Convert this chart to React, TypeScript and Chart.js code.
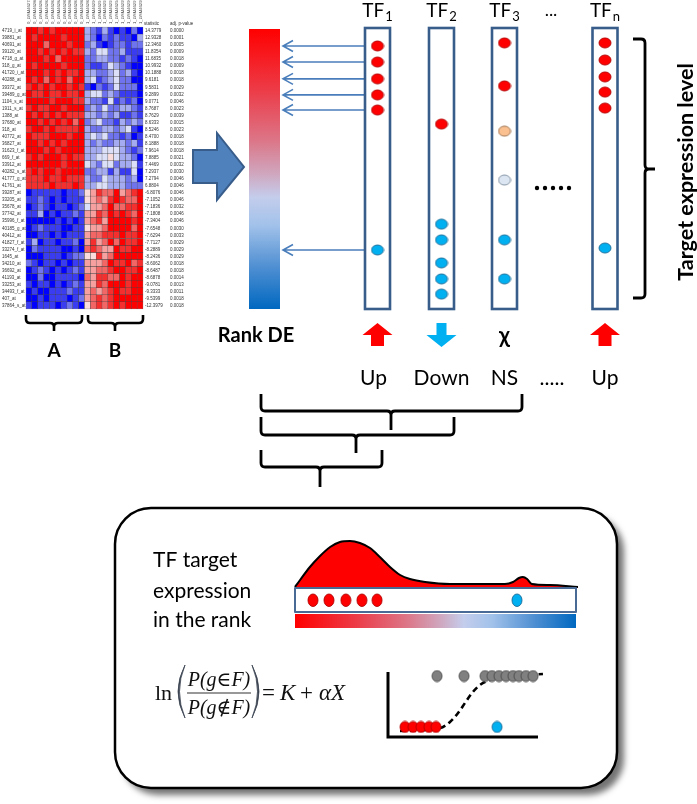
import React, { useEffect, useRef } from 'react';
import { Chart, registerables } from 'chart.js';

Chart.register(...registerables);

const W = 697;
const H = 804;

// ---------------- Heatmap data ----------------
const SAMPLE_LABELS = [
  '0_GSM46279', '0_GSM46280', '0_GSM46281', '0_GSM46282', '0_GSM46283',
  '0_GSM46284', '0_GSM46285', '0_GSM46286', '0_GSM46287', '0_GSM46288',
  '1_GSM46289', '1_GSM46290', '1_GSM46291', '1_GSM46292', '1_GSM46293',
  '1_GSM46294', '1_GSM46295', '1_GSM46296', '1_GSM46297', '1_GSM46298',
];
const GENE_LABELS = [
  '4719_i_at', '39881_at', '40691_at', '39120_at', '4718_g_at', '318_g_at', '41720_i_at', '40288_at',
  '39372_at', '39489_g_at', '1104_s_at', '1911_s_at', '1388_at', '37680_at', '318_at', '40772_at',
  '36827_at', '31623_f_at', '669_f_at', '33912_at', '40282_s_at', '41777_g_at', '41761_at',
  '39287_at', '33205_at', '35678_at', '37742_at', '35996_f_at', '40185_g_at', '40412_at',
  '41827_f_at', '33274_f_at', '1645_at', '34210_at', '36692_at', '41193_at', '33253_at',
  '34493_f_at', '407_at', '37864_s_at',
];
const STATISTIC = [
  '14.3779', '12.9328', '12.3460', '11.8354', '11.6835', '10.9932', '10.1888', '9.6181',
  '9.5831', '9.2899', '9.0771', '8.7687', '8.7629', '8.6333', '8.5246', '8.4700',
  '8.1888', '7.9614', '7.8885', '7.4469', '7.2937', '7.2794', '6.8804',
  '-6.8076', '-7.1052', '-7.1836', '-7.1808', '-7.3404', '-7.6548', '-7.6294',
  '-7.7127', '-8.2889', '-8.2436', '-8.6062', '-8.6487', '-8.6878', '-9.0781',
  '-9.3333', '-9.5399', '-12.3979',
];
const ADJ_P = [
  '0.0000', '0.0001', '0.0005', '0.0009', '0.0018', '0.0009', '0.0018', '0.0018',
  '0.0029', '0.0032', '0.0046', '0.0023', '0.0039', '0.0015', '0.0023', '0.0018',
  '0.0018', '0.0018', '0.0021', '0.0032', '0.0030', '0.0046', '0.0046',
  '0.0046', '0.0046', '0.0032', '0.0046', '0.0046', '0.0030', '0.0033',
  '0.0029', '0.0029', '0.0029', '0.0018', '0.0018', '0.0014', '0.0013',
  '0.0011', '0.0018', '0.0018',
];
// intensity per cell: 0 = deep blue ... 9 = deep red (group A | group B)
const HEAT_ROWS = [
  '9989899999 3213101020',
  '9899998999 3202121103',
  '9997999899 2310122122',
  '9989898988 3244223111',
  '9998979999 2233221210',
  '9899998999 2112432100',
  '9998989889 3322342310',
  '9897989799 3412342200',
  '8989899898 1021242220',
  '9889889889 3442321110',
  '9999899988 3221412120',
  '8988998999 2324223321',
  '9898989888 3323231121',
  '9989898979 2342213232',
  '8998988889 3223323410',
  '9888999899 3434221201',
  '9989898999 3232233231',
  '9998989999 3334443212',
  '8989998988 3344543320',
  '9999998999 4324423341',
  '8989989999 2233131140',
  '8889889888 3224333230',
  '8888988898 3344333222',
  '0111110112 5687796789',
  '1121010111 5676898779',
  '0121011012 4667977889',
  '1130101121 6687989879',
  '0000010101 6786999989',
  '0121110011 5667999979',
  '0011010111 6778889889',
  '1301101120 6867979889',
  '0211110010 7876698899',
  '0001110122 5586799999',
  '2101101011 6667988978',
  '0121010121 6677899889',
  '0020011110 7688779899',
  '1011010121 6687999899',
  '0100111211 6767898899',
  '0010111012 6787899999',
  '1011101210 5787898999',
];
const HEAT_COLORS = [
  '#0000ff', '#3a3cf2', '#6f74ee', '#a5abf0', '#dcdff8',
  '#fbdcdc', '#f6a0a0', '#f36666', '#f52e2e', '#ff0000',
];

// ---------------- TF panel data ----------------
const TF_NAMES = ['1', '2', '3', 'n'];
const TF_DIRECTION = ['Up', 'Down', 'NS', 'Up'];
// position of each target gene in the DE rank (0 = top/most up, 1 = bottom/most down)
const TF_TARGET_RANKS = [
  [0.064, 0.121, 0.181, 0.238, 0.292, 0.79],
  [0.342, 0.698, 0.754, 0.836, 0.893, 0.947],
  [0.053, 0.206, 0.367, 0.541, 0.754, 0.893],
  [0.053, 0.114, 0.174, 0.228, 0.285, 0.783],
];
const TF_TARGET_CLASS = [
  ['up', 'up', 'up', 'up', 'up', 'down'],
  ['up', 'down', 'down', 'down', 'down', 'down'],
  ['up', 'up', 'weakUp', 'weakDown', 'down', 'down'],
  ['up', 'up', 'up', 'up', 'up', 'down'],
];

// ---------------- Bottom panel data ----------------
const DENSITY_RANK = [0, 0.018, 0.053, 0.089, 0.125, 0.16, 0.196, 0.231, 0.267, 0.302, 0.338, 0.374, 0.409, 0.463, 0.552, 0.658, 0.747, 0.776, 0.797, 0.811, 0.826, 0.843, 0.907, 1.007];
const DENSITY_HEIGHT = [1, 8, 21, 32, 41, 46, 47, 45, 40, 31, 21, 13, 9, 6, 4, 4, 4, 6, 10, 11, 9, 4, 3, 1];
const LOGIT_CURVE_X = [0.08, 0.347, 0.413, 0.467, 0.513, 0.56, 0.613, 0.68, 0.78, 0.913, 1.033];
const LOGIT_CURVE_P = [0.092, 0.138, 0.231, 0.369, 0.523, 0.677, 0.8, 0.877, 0.923, 0.954, 0.969];
const LOGIT_TARGET_X = [0.113, 0.167, 0.22, 0.273, 0.32];
const LOGIT_TARGET_P = [0.154, 0.154, 0.154, 0.154, 0.154];
const LOGIT_OTHER_X = [0.327, 0.507, 0.647, 0.693, 0.74, 0.787, 0.833, 0.873, 0.92, 0.967];
const LOGIT_OTHER_P = [0.938, 0.938, 0.938, 0.938, 0.938, 0.938, 0.938, 0.938, 0.938, 0.938];
const LOGIT_DOWN_X = [0.727];
const LOGIT_DOWN_P = [0.154];

// ---------------- Layout (positions only) ----------------
const HM = { x0: 26, y0: 27, cw: 5.85, ch: 7.05 };
const RANKBAR = { l: 249, r: 280, t: 29, b: 309 };
const TF_X = [377.5, 441.5, 504.5, 605];
const TF_BOX = { w: 25, t: 28, b: 309 };
const EX = { l: 295, r: 576, t: 588, b: 612, gt: 614, gb: 628, dotY: 600 };
const LOGIT = { x0: 388, y0: 737, w: 150, h: 65 };
const BOX = { l: 115, t: 508, r: 617, b: 788, rad: 36 };

const SANS = 'Lato, "Open Sans", "Noto Sans", sans-serif';
const SERIF = '"Liberation Serif", "DejaVu Serif", serif';
const SMALL = '"Liberation Sans", Arial, sans-serif';

const DOT_STYLE: Record<string, [string, string]> = {
  up: ['#ff0000', '#b00000'],
  down: ['#00b0f0', '#1d6a96'],
  weakUp: ['#fac090', '#9a6d4a'],
  weakDown: ['#dce6f2', '#7a8a9c'],
  other: ['#808080', '#4a4a4a'],
};

function ellipse(w: number, h: number, fill: string, stroke: string) {
  const c = document.createElement('canvas');
  c.width = w + 2;
  c.height = h + 2;
  const g = c.getContext('2d')!;
  g.beginPath();
  g.ellipse((w + 2) / 2, (h + 2) / 2, w / 2, h / 2, 0, 0, Math.PI * 2);
  g.fillStyle = fill;
  g.fill();
  g.lineWidth = 0.9;
  g.strokeStyle = stroke;
  g.stroke();
  return c;
}

function gradStops(g: CanvasGradient) {
  g.addColorStop(0, '#ff0000');
  g.addColorStop(0.22, '#ec3c48');
  g.addColorStop(0.4, '#dc7688');
  g.addColorStop(0.52, '#cfa8c0');
  g.addColorStop(0.6, '#c4cdec');
  g.addColorStop(0.7, '#a2c2ea');
  g.addColorStop(0.85, '#4f8fd2');
  g.addColorStop(1, '#0068c0');
}

export default function App() {
  const ref = useRef<HTMLCanvasElement>(null);

  useEffect(() => {
    const canvas = ref.current!;
    const tfBoxH = TF_BOX.b - TF_BOX.t;
    const exW = EX.r - EX.l;

    // heatmap cells
    const cells: any[] = [];
    const cellColors: string[] = [];
    HEAT_ROWS.forEach((row, r) => {
      row.replace(' ', '').split('').forEach((ch, c) => {
        cells.push({ x: HM.x0 + (c + 0.5) * HM.cw, y: [HM.y0 + r * HM.ch, HM.y0 + (r + 1) * HM.ch] });
        cellColors.push(HEAT_COLORS[Number(ch)]);
      });
    });

    // TF dots grouped by class
    const tfDots: Record<string, any[]> = { up: [], down: [], weakUp: [], weakDown: [] };
    TF_TARGET_RANKS.forEach((ranks, i) => {
      ranks.forEach((rk, j) => {
        tfDots[TF_TARGET_CLASS[i][j]].push({ x: TF_X[i], y: TF_BOX.t + rk * tfBoxH });
      });
    });

    // example (TF1) in rank
    const exUp: any[] = [];
    const exDown: any[] = [];
    TF_TARGET_RANKS[0].forEach((rk, j) => {
      const p = { x: EX.l + rk * exW, y: EX.dotY };
      (TF_TARGET_CLASS[0][j] === 'up' ? exUp : exDown).push(p);
    });

    const density = DENSITY_RANK.map((rk, i) => ({ x: EX.l + rk * exW, y: EX.t - DENSITY_HEIGHT[i] }));
    const lx = (v: number) => LOGIT.x0 + v * LOGIT.w;
    const ly = (v: number) => LOGIT.y0 - v * LOGIT.h;
    const curve = LOGIT_CURVE_X.map((v, i) => ({ x: lx(v), y: ly(LOGIT_CURVE_P[i]) }));
    const lTarget = LOGIT_TARGET_X.map((v, i) => ({ x: lx(v), y: ly(LOGIT_TARGET_P[i]) }));
    const lOther = LOGIT_OTHER_X.map((v, i) => ({ x: lx(v), y: ly(LOGIT_OTHER_P[i]) }));
    const lDown = LOGIT_DOWN_X.map((v, i) => ({ x: lx(v), y: ly(LOGIT_DOWN_P[i]) }));

    const dot = (cls: string, w: number, h: number) => ellipse(w, h, DOT_STYLE[cls][0], DOT_STYLE[cls][1]);
    const pointDs = (data: any[], style: HTMLCanvasElement, order = 1) => ({
      type: 'scatter' as const,
      data,
      pointStyle: style,
      pointRadius: 6,
      clip: false,
      order,
    });

    const decor = {
      id: 'decor',
      beforeDatasetsDraw(chart: any) {
        const ctx: CanvasRenderingContext2D = chart.ctx;
        const X = (v: number) => chart.scales.x.getPixelForValue(v);
        const Y = (v: number) => chart.scales.y.getPixelForValue(v);
        ctx.save();
        ctx.fillStyle = '#fff';
        ctx.fillRect(0, 0, W, H);

        // bottom rounded box with shadow
        const rr = () => {
          ctx.beginPath();
          ctx.moveTo(X(BOX.l + BOX.rad), Y(BOX.t));
          ctx.arcTo(X(BOX.r), Y(BOX.t), X(BOX.r), Y(BOX.b), BOX.rad);
          ctx.arcTo(X(BOX.r), Y(BOX.b), X(BOX.l), Y(BOX.b), BOX.rad);
          ctx.arcTo(X(BOX.l), Y(BOX.b), X(BOX.l), Y(BOX.t), BOX.rad);
          ctx.arcTo(X(BOX.l), Y(BOX.t), X(BOX.r), Y(BOX.t), BOX.rad);
          ctx.closePath();
        };
        ctx.save();
        rr();
        ctx.shadowColor = 'rgba(0,0,0,0.55)';
        ctx.shadowOffsetX = 7;
        ctx.shadowOffsetY = 7;
        ctx.shadowBlur = 6;
        ctx.fillStyle = '#fff';
        ctx.fill();
        ctx.restore();
        rr();
        ctx.lineWidth = 2.5;
        ctx.strokeStyle = '#000';
        ctx.stroke();

        // rank DE gradient bar
        const g1 = ctx.createLinearGradient(0, Y(RANKBAR.t), 0, Y(RANKBAR.b));
        gradStops(g1);
        ctx.fillStyle = g1;
        ctx.fillRect(X(RANKBAR.l), Y(RANKBAR.t), X(RANKBAR.r) - X(RANKBAR.l), Y(RANKBAR.b) - Y(RANKBAR.t));

        // big block arrow
        ctx.beginPath();
        const arrow = [[193, 150], [217, 150], [217, 133], [244, 167], [217, 200], [217, 183], [193, 183]];
        arrow.forEach(([ax, ay], i) => (i ? ctx.lineTo(X(ax), Y(ay)) : ctx.moveTo(X(ax), Y(ay))));
        ctx.closePath();
        ctx.fillStyle = '#4f81bd';
        ctx.fill();
        ctx.lineWidth = 2;
        ctx.strokeStyle = '#385d8a';
        ctx.stroke();

        // arrows from TF1 targets to the rank
        ctx.strokeStyle = '#4a7ebb';
        ctx.lineWidth = 1.6;
        TF_TARGET_RANKS[0].forEach((rk) => {
          const y = Y(TF_BOX.t + rk * tfBoxH);
          ctx.beginPath();
          ctx.moveTo(X(283), y);
          ctx.lineTo(X(TF_X[0] - 4), y);
          ctx.moveTo(X(293), y - 5.5);
          ctx.lineTo(X(283), y);
          ctx.lineTo(X(293), y + 5.5);
          ctx.stroke();
        });

        // TF boxes
        TF_X.forEach((cx) => {
          ctx.fillStyle = '#fff';
          const x0 = X(cx - TF_BOX.w / 2);
          ctx.fillRect(x0, Y(TF_BOX.t), TF_BOX.w, tfBoxH);
          ctx.lineWidth = 2.6;
          ctx.strokeStyle = '#385d8a';
          ctx.strokeRect(x0, Y(TF_BOX.t), TF_BOX.w, tfBoxH);
        });

        // example rank box & gradient
        ctx.fillStyle = '#fff';
        ctx.fillRect(X(EX.l), Y(EX.t), exW, EX.b - EX.t);
        const g2 = ctx.createLinearGradient(X(EX.l), 0, X(EX.r), 0);
        gradStops(g2);
        ctx.fillStyle = g2;
        ctx.fillRect(X(EX.l), Y(EX.gt), exW, EX.gb - EX.gt);

        // logistic axes
        ctx.strokeStyle = '#000';
        ctx.lineWidth = 3;
        ctx.beginPath();
        ctx.moveTo(X(LOGIT.x0), Y(LOGIT.y0 - LOGIT.h));
        ctx.lineTo(X(LOGIT.x0), Y(LOGIT.y0));
        ctx.lineTo(X(LOGIT.x0 + LOGIT.w), Y(LOGIT.y0));
        ctx.stroke();
        ctx.restore();
      },
      afterDatasetsDraw(chart: any) {
        const ctx: CanvasRenderingContext2D = chart.ctx;
        const X = (v: number) => chart.scales.x.getPixelForValue(v);
        const Y = (v: number) => chart.scales.y.getPixelForValue(v);
        const text = (s: string, x: number, y: number, font: string, align: CanvasTextAlign = 'left', color = '#000') => {
          ctx.font = font;
          ctx.fillStyle = color;
          ctx.textAlign = align;
          ctx.textBaseline = 'alphabetic';
          ctx.fillText(s, X(x), Y(y));
        };
        ctx.save();

        // heatmap labels
        GENE_LABELS.forEach((g, r) => {
          const y = HM.y0 + (r + 0.5) * HM.ch + 1.6;
          text(g, 2, y, `4.5px ${SMALL}`, 'left', '#333');
          text(STATISTIC[r], 145, y, `4.5px ${SMALL}`, 'left', '#333');
          text(ADJ_P[r], 170, y, `4.5px ${SMALL}`, 'left', '#333');
        });
        text('statistic', 144, 25, `4.5px ${SMALL}`, 'left', '#333');
        text('adj. p-value', 170, 25, `4.5px ${SMALL}`, 'left', '#333');
        SAMPLE_LABELS.forEach((s, c) => {
          ctx.save();
          ctx.translate(X(HM.x0 + (c + 0.5) * HM.cw + 1.5), Y(24));
          ctx.rotate(-Math.PI / 2);
          ctx.font = `4.2px ${SMALL}`;
          ctx.fillStyle = '#444';
          ctx.textAlign = 'left';
          ctx.fillText(s, 0, 0);
          ctx.restore();
        });

        // brace helper (horizontal, opening up)
        const brace = (xl: number, xr: number, xm: number, top: number, bot: number, tip: number, lw = 2.6) => {
          const r = 4;
          ctx.beginPath();
          ctx.moveTo(X(xl), Y(top));
          ctx.lineTo(X(xl), Y(bot - r));
          ctx.quadraticCurveTo(X(xl), Y(bot), X(xl + r), Y(bot));
          ctx.lineTo(X(xm - r), Y(bot));
          ctx.quadraticCurveTo(X(xm), Y(bot), X(xm), Y(bot + r));
          ctx.lineTo(X(xm), Y(tip));
          ctx.moveTo(X(xm), Y(bot + r));
          ctx.quadraticCurveTo(X(xm), Y(bot), X(xm + r), Y(bot));
          ctx.lineTo(X(xr - r), Y(bot));
          ctx.quadraticCurveTo(X(xr), Y(bot), X(xr), Y(bot - r));
          ctx.lineTo(X(xr), Y(top));
          ctx.lineWidth = lw;
          ctx.strokeStyle = '#000';
          ctx.lineJoin = 'round';
          ctx.stroke();
        };
        brace(26, 82, 54, 315, 323, 331);
        brace(88, 143, 115, 315, 323, 331);
        text('A', 54, 357, `bold 19px ${SANS}`, 'center');
        text('B', 115, 357, `bold 19px ${SANS}`, 'center');

        // nested braces under direction labels
        brace(261, 522, 391, 394, 411, 430, 2.8);
        brace(261, 454, 356, 417, 435, 453, 2.8);
        brace(261, 382, 320, 450, 467, 487, 2.8);

        // vertical brace for target expression level
        {
          const xi = 633, xv = 645, xt = 655, t = 39, b = 298, m = 169, r = 4;
          ctx.beginPath();
          ctx.moveTo(X(xi), Y(t));
          ctx.lineTo(X(xv - r), Y(t));
          ctx.quadraticCurveTo(X(xv), Y(t), X(xv), Y(t + r));
          ctx.lineTo(X(xv), Y(m - r));
          ctx.quadraticCurveTo(X(xv), Y(m), X(xv + r), Y(m));
          ctx.lineTo(X(xt), Y(m));
          ctx.moveTo(X(xv + r), Y(m));
          ctx.quadraticCurveTo(X(xv), Y(m), X(xv), Y(m + r));
          ctx.lineTo(X(xv), Y(b - r));
          ctx.quadraticCurveTo(X(xv), Y(b), X(xv - r), Y(b));
          ctx.lineTo(X(xi), Y(b));
          ctx.lineWidth = 2.8;
          ctx.strokeStyle = '#000';
          ctx.stroke();
          ctx.save();
          ctx.translate(X(693), Y(172));
          ctx.rotate(-Math.PI / 2);
          ctx.font = `bold 21.5px ${SANS}`;
          ctx.fillStyle = '#000';
          ctx.textAlign = 'center';
          ctx.fillText('Target expression level', 0, 0);
          ctx.restore();
        }

        // TF labels
        TF_NAMES.forEach((n, i) => {
          ctx.font = `19px ${SANS}`;
          const w1 = ctx.measureText('TF').width;
          ctx.font = `13px ${SANS}`;
          const w2 = ctx.measureText(n).width;
          const x0 = TF_X[i] - (w1 + w2 + 1) / 2;
          text('TF', x0, 17, `19px ${SANS}`);
          text(n, x0 + w1 + 1, 21, `13px ${SANS}`);
        });
        text('...', 551, 16, `18px ${SANS}`, 'center');
        // dotted continuation
        ctx.fillStyle = '#000';
        [537, 545, 553, 561, 569].forEach((dx) => {
          ctx.beginPath();
          ctx.arc(X(dx), Y(188), 2.2, 0, Math.PI * 2);
          ctx.fill();
        });

        text('Rank DE', 256, 342, `bold 20px ${SANS}`, 'center');

        // direction glyphs + labels
        TF_DIRECTION.forEach((d, i) => {
          const cx = TF_X[i];
          ctx.beginPath();
          if (d === 'Up') {
            const pts = [[0, 323], [15, 335], [6.5, 335], [6.5, 346], [-6.5, 346], [-6.5, 335], [-15, 335]];
            pts.forEach(([dx, y], k) => (k ? ctx.lineTo(X(cx + dx), Y(y)) : ctx.moveTo(X(cx + dx), Y(y))));
            ctx.closePath();
            ctx.fillStyle = '#ff0000';
            ctx.fill();
          } else if (d === 'Down') {
            const pts = [[-5, 323], [5, 323], [5, 335], [15, 335], [0, 347], [-15, 335], [-5, 335]];
            pts.forEach(([dx, y], k) => (k ? ctx.lineTo(X(cx + dx), Y(y)) : ctx.moveTo(X(cx + dx), Y(y))));
            ctx.closePath();
            ctx.fillStyle = '#00b0f0';
            ctx.fill();
          } else {
            text('\u03c7', cx, 343, `bold 22px ${SANS}`, 'center');
          }
          text(d, cx - (i === 0 ? 4 : 0), 385, `21px ${SANS}`, 'center');
        });
        text('.....', 552, 385, `21px ${SANS}`, 'center');

        // example rank box border (on top of density fill)
        ctx.lineWidth = 2;
        ctx.strokeStyle = '#4a6a96';
        ctx.strokeRect(X(EX.l), Y(EX.t), exW, EX.b - EX.t);

        // bottom texts
        text('TF target', 153, 567, `21px ${SANS}`);
        text('expression', 153, 598, `21px ${SANS}`);
        text('in the rank', 153, 627, `21px ${SANS}`);

        // formula
        text('ln', 155, 700, `22px ${SERIF}`, 'left', '#111');
        text('P(g\u2208F)', 219, 686, `italic 20px ${SERIF}`, 'center', '#111');
        text('P(g\u2209F)', 219, 714, `italic 20px ${SERIF}`, 'center', '#111');
        ctx.strokeStyle = '#333';
        ctx.lineWidth = 1.1;
        ctx.beginPath();
        ctx.moveTo(X(187), Y(693));
        ctx.lineTo(X(251), Y(693));
        ctx.stroke();
        const paren = (x: number, dir: number) => {
          ctx.beginPath();
          ctx.moveTo(X(x), Y(665));
          ctx.quadraticCurveTo(X(x - dir * 14), Y(691.5), X(x), Y(718));
          ctx.quadraticCurveTo(X(x - dir * 11), Y(691.5), X(x), Y(665));
          ctx.fillStyle = '#3a4250';
          ctx.fill();
          ctx.lineWidth = 0.8;
          ctx.strokeStyle = '#3a4250';
          ctx.stroke();
        };
        paren(185, 1);
        paren(252, -1);
        text('=', 262, 700, `23px ${SERIF}`, 'left', '#111');
        text('K', 280, 700, `italic 23px ${SERIF}`, 'left', '#111');
        text('+', 300, 700, `23px ${SERIF}`, 'left', '#111');
        text('\u03b1X', 319, 700, `italic 23px ${SERIF}`, 'left', '#111');

        ctx.restore();
      },
    };

    const chart = new Chart(canvas, {
      type: 'scatter',
      data: {
        datasets: [
          {
            type: 'bar',
            data: cells,
            backgroundColor: cellColors,
            borderColor: 'rgba(45,45,45,0.75)',
            borderWidth: 0.5,
            borderSkipped: false,
            barThickness: HM.cw,
            order: 20,
          } as any,
          {
            type: 'line',
            data: density,
            borderColor: '#000',
            borderWidth: 2,
            backgroundColor: '#ff0000',
            fill: { value: EX.t },
            cubicInterpolationMode: 'monotone',
            pointRadius: 0,
            order: 15,
          } as any,
          {
            type: 'line',
            data: curve,
            borderColor: '#000',
            borderWidth: 2.6,
            borderDash: [6, 4],
            fill: false,
            cubicInterpolationMode: 'monotone',
            pointRadius: 0,
            order: 12,
          } as any,
          pointDs(tfDots.up, dot('up', 12, 10)),
          pointDs(tfDots.down, dot('down', 12, 10)),
          pointDs(tfDots.weakUp, dot('weakUp', 12, 10)),
          pointDs(tfDots.weakDown, dot('weakDown', 12, 10)),
          pointDs(exUp, dot('up', 10, 12.5)),
          pointDs(exDown, dot('down', 10, 12.5)),
          pointDs(lOther, dot('other', 10, 11), 3),
          pointDs(lTarget, dot('up', 10, 11), 3),
          pointDs(lDown, dot('down', 10, 11), 3),
        ],
      },
      options: {
        responsive: false,
        animation: false,
        events: [],
        layout: { padding: 0, autoPadding: false },
        plugins: { legend: { display: false }, tooltip: { enabled: false } },
        scales: {
          x: { type: 'linear', min: 0, max: W, display: false, offset: false, grid: { offset: false } },
          y: { type: 'linear', min: 0, max: H, reverse: true, display: false },
        },
      },
      plugins: [decor],
    });
    return () => chart.destroy();
  }, []);

  return (
    <div style={{ position: 'absolute', left: 0, top: 0, width: W, height: H, background: '#fff' }}>
      <canvas ref={ref} width={W} height={H} style={{ width: W, height: H, display: 'block' }} />
    </div>
  );
}
